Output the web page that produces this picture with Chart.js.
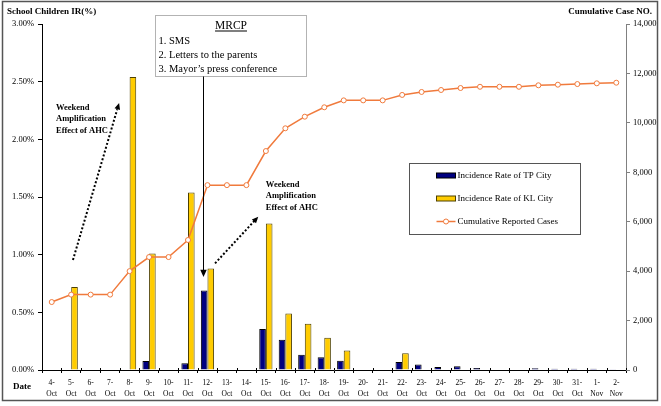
<!DOCTYPE html>
<html>
<head>
<meta charset="utf-8">
<script src="https://cdn.jsdelivr.net/npm/chart.js@4.4.1/dist/chart.umd.min.js"></script>
<style>
  html, body { margin: 0; padding: 0; background: #fff; }
  #wrap { width: 661px; height: 406px; position: relative; }
</style>
</head>
<body>
<div id="wrap"><canvas id="chart" width="661" height="406"></canvas></div>
<script>
// --- data ---
const dates = ['4-Oct', '5-Oct', '6-Oct', '7-Oct', '8-Oct', '9-Oct', '10-Oct', '11-Oct', '12-Oct', '13-Oct',
    '14-Oct', '15-Oct', '16-Oct', '17-Oct', '18-Oct', '19-Oct', '20-Oct', '21-Oct', '22-Oct', '23-Oct',
    '24-Oct', '25-Oct', '26-Oct', '27-Oct', '28-Oct', '29-Oct', '30-Oct', '31-Oct', '1-Nov', '2-Nov']

// incidence rate of school children, in %
const tpRate = [null, 0.005, null, null, null, 0.078, null, 0.058, 0.69, null,
    null, 0.355, 0.263, 0.133, 0.11, 0.08, null, null, 0.069, 0.047,
    0.025, 0.032, 0.018, null, null, 0.016, 0.011, 0.011, 0.011, 0.007]
const klRate = [null, 0.72, null, null, 2.54, 1.01, null, 1.54, 0.88, null,
    null, 1.27, 0.49, 0.40, 0.28, 0.17, null, null, 0.145, null,
    null, null, null, null, null, null, null, null, null, null]

// cumulative reported cases (right axis)
const cumCases = [2750, 3050, 3050, 3050, 4000, 4570, 4570, 5260, 7480, 7480,
    7480, 8860, 9780, 10250, 10630, 10910, 10910, 10910, 11130, 11250,
    11330, 11410, 11460, 11460, 11460, 11520, 11545, 11570, 11600, 11625]

const irMax = 3, irStep = 0.5
const caseMax = 14000, caseStep = 2000

const seriesNames = ['Incidence Rate of TP City', 'Incidence Rate of KL City', 'Cumulative Reported Cases']
const mrcpTitle = 'MRCP'
const mrcpItems = ['1. SMS', '2. Letters to the parents', "3. Mayor\u2019s press conference"]
const weekendText = ['Weekend', 'Amplification', 'Effect of AHC']

// --- styles ---
const SERIF = "'Liberation Serif', 'Times New Roman', serif"
const NAVY = '#000080'
const YELLOW = '#FFCC00'
const ORANGE = '#F07A3C'

// annotation anchors, in (category index, % on left axis)
const notes = {
    box: { x0: 5.3, x1: 13.06, yTop: 3.078, yBot: 2.546 },
    mrcpArrow: { x: 7.79, yTip: 0.806 },
    weekend: [
        { tx: 0.22, ty: 2.274, from: [1.09, 0.954], to: [3.46, 2.315] },
        { tx: 11.0, ty: 1.607, from: [8.39, 0.925], to: [10.61, 1.329] }
    ],
    legend: { x0: 18.35, x1: 27.14, yTop: 1.795, yBot: 1.179 }
}

function arrowHead( ctx, x0, y0, x1, y1, size ) {
    const a = Math.atan2( y1 - y0, x1 - x0 )
    ctx.beginPath()
    ctx.moveTo( x1, y1 )
    ctx.lineTo( x1 - size * Math.cos( a - 0.42 ), y1 - size * Math.sin( a - 0.42 ) )
    ctx.lineTo( x1 - size * Math.cos( a + 0.42 ), y1 - size * Math.sin( a + 0.42 ) )
    ctx.closePath()
    ctx.fill()
}

const decor = {
    id: 'decor',
    afterDraw( chart ) {
        const ctx = chart.ctx
        const xs = chart.scales.x, ys = chart.scales.y
        const px = i => xs.getPixelForValue( i )
        const py = v => ys.getPixelForValue( v )
        const area = chart.chartArea
        ctx.save()

        // outer frame
        ctx.strokeStyle = '#555'
        ctx.lineWidth = 1.5
        ctx.strokeRect( 2.5, 1.5, 655, 399 )

        // x tick marks crossing the axis
        ctx.strokeStyle = '#000'
        ctx.lineWidth = 1
        ctx.beginPath()
        for ( let i = 0; i <= dates.length; i++ ) {
            const x = Math.round( px( i - 0.5 ) ) + 0.5
            ctx.moveTo( x, area.bottom - 2 )
            ctx.lineTo( x, area.bottom )
        }
        ctx.stroke()

        // axis titles
        ctx.fillStyle = '#000'
        ctx.font = 'bold 9px ' + SERIF
        ctx.textBaseline = 'middle'
        ctx.textAlign = 'left'
        ctx.fillText( 'School Children IR(%)', 7, 12 )
        ctx.fillText( 'Date', 13, 387 )
        ctx.textAlign = 'right'
        ctx.fillText( 'Cumulative Case NO.', 652, 12 )

        // MRCP box
        const b = notes.box
        const bx0 = Math.round( px( b.x0 ) ) + 0.5, bx1 = Math.round( px( b.x1 ) ) + 0.5
        const by0 = Math.round( py( b.yTop ) ) + 0.5, by1 = Math.round( py( b.yBot ) ) + 0.5
        ctx.fillStyle = '#fff'
        ctx.fillRect( bx0, by0, bx1 - bx0, by1 - by0 )
        ctx.setLineDash( [ 1, 1 ] )
        ctx.strokeStyle = '#666'
        ctx.strokeRect( bx0, by0, bx1 - bx0, by1 - by0 )
        ctx.setLineDash( [] )
        ctx.fillStyle = '#000'
        ctx.font = '11.5px ' + SERIF
        ctx.textAlign = 'center'
        const cx = ( bx0 + bx1 ) / 2
        ctx.fillText( mrcpTitle, cx, by0 + 10 )
        const tw = ctx.measureText( mrcpTitle ).width
        ctx.fillRect( cx - tw / 2, by0 + 15, tw, 1 )
        ctx.font = '10.5px ' + SERIF
        ctx.textAlign = 'left'
        mrcpItems.forEach( ( t, k ) => ctx.fillText( t, bx0 + 3, by0 + 26 + k * 14 ) )

        // MRCP arrow down to TP City bar
        const ax = Math.round( px( notes.mrcpArrow.x ) ) + 0.5
        const ay = py( notes.mrcpArrow.yTip )
        ctx.strokeStyle = '#000'
        ctx.lineWidth = 1
        ctx.beginPath()
        ctx.moveTo( ax, by1 )
        ctx.lineTo( ax, ay - 6 )
        ctx.stroke()
        arrowHead( ctx, ax, by1, ax, ay, 8 )

        // weekend amplification notes
        notes.weekend.forEach( w => {
            const x0 = px( w.from[ 0 ] ), y0 = py( w.from[ 1 ] )
            const x1 = px( w.to[ 0 ] ), y1 = py( w.to[ 1 ] )
            ctx.setLineDash( [ 2, 2 ] )
            ctx.lineWidth = 2
            ctx.beginPath()
            ctx.moveTo( x0, y0 )
            ctx.lineTo( x1 - ( x1 - x0 ) * 0.04, y1 - ( y1 - y0 ) * 0.04 )
            ctx.stroke()
            ctx.setLineDash( [] )
            arrowHead( ctx, x0, y0, x1, y1, 7 )
            ctx.font = 'bold 8.5px ' + SERIF
            ctx.textAlign = 'left'
            weekendText.forEach( ( t, k ) => ctx.fillText( t, px( w.tx ), py( w.ty ) + k * 11.5 ) )
        } )

        // legend box
        const l = notes.legend
        const lx0 = Math.round( px( l.x0 ) ) + 0.5, lx1 = Math.round( px( l.x1 ) ) + 0.5
        const ly0 = Math.round( py( l.yTop ) ) + 0.5, ly1 = Math.round( py( l.yBot ) ) + 0.5
        ctx.fillStyle = '#fff'
        ctx.fillRect( lx0, ly0, lx1 - lx0, ly1 - ly0 )
        ctx.strokeStyle = '#555'
        ctx.lineWidth = 1
        ctx.strokeRect( lx0, ly0, lx1 - lx0, ly1 - ly0 )
        const rows = [ ly0 + 12, ly0 + 35, ly0 + 58 ]
        const sx = lx0 + 27, sw = 19
        // TP swatch
        ctx.fillStyle = NAVY
        ctx.fillRect( sx, rows[ 0 ] - 2.5, sw, 5 )
        ctx.strokeStyle = '#000'
        ctx.strokeRect( sx, rows[ 0 ] - 2.5, sw, 5 )
        // KL swatch
        ctx.fillStyle = YELLOW
        ctx.fillRect( sx, rows[ 1 ] - 2.5, sw, 5 )
        ctx.strokeStyle = '#4d4000'
        ctx.strokeRect( sx, rows[ 1 ] - 2.5, sw, 5 )
        // line swatch
        ctx.strokeStyle = ORANGE
        ctx.lineWidth = 1.5
        ctx.beginPath()
        ctx.moveTo( sx, rows[ 2 ] )
        ctx.lineTo( sx + sw, rows[ 2 ] )
        ctx.stroke()
        ctx.fillStyle = '#fff'
        ctx.lineWidth = 1
        ctx.beginPath()
        ctx.arc( sx + sw / 2, rows[ 2 ], 2.5, 0, Math.PI * 2 )
        ctx.fill()
        ctx.stroke()
        ctx.fillStyle = '#000'
        ctx.font = '9px ' + SERIF
        ctx.textAlign = 'left'
        seriesNames.forEach( ( t, k ) => ctx.fillText( t, sx + sw + 2, rows[ k ] ) )

        ctx.restore()
    }
}

new Chart( document.getElementById( 'chart' ), {
    type: 'bar',
    data: {
        labels: dates,
        datasets: [
            {
                type: 'line', label: seriesNames[ 2 ], data: cumCases, yAxisID: 'y1', order: 0,
                borderColor: ORANGE, borderWidth: 1.5, backgroundColor: '#fff',
                pointRadius: 2.5, pointBorderWidth: 1, pointBorderColor: ORANGE, pointBackgroundColor: '#fff',
                tension: 0
            },
            {
                label: seriesNames[ 0 ], data: tpRate, yAxisID: 'y', order: 1,
                backgroundColor: NAVY, borderColor: '#000', borderWidth: 1,
                categoryPercentage: 0.68, barPercentage: 1.0
            },
            {
                label: seriesNames[ 1 ], data: klRate, yAxisID: 'y', order: 1,
                backgroundColor: YELLOW, borderColor: '#4d4000', borderWidth: 1,
                categoryPercentage: 0.68, barPercentage: 1.0
            }
        ]
    },
    options: {
        responsive: false,
        animation: false,
        devicePixelRatio: 1,
        layout: { padding: { top: 24, left: 0, right: 0, bottom: 0 } },
        plugins: { legend: { display: false }, tooltip: { enabled: false } },
        scales: {
            x: {
                grid: { display: true, drawOnChartArea: false, color: '#000', tickLength: 3 },
                border: { color: '#000', width: 1 },
                ticks: {
                    autoSkip: false, maxRotation: 0, minRotation: 0, padding: 5, color: '#000',
                    font: { family: SERIF, size: 7.5, lineHeight: 1.4 },
                    callback: function( v ) {
                        const s = this.getLabelForValue( v )
                        const k = s.indexOf( '-' )
                        return [ s.slice( 0, k + 1 ), s.slice( k + 1 ) ]
                    }
                },
                afterFit: s => { s.height = 36 }
            },
            y: {
                position: 'left', min: 0, max: irMax,
                grid: { display: true, drawOnChartArea: false, color: '#000', tickLength: 4 },
                border: { color: '#000', width: 1 },
                ticks: {
                    stepSize: irStep, padding: 4, color: '#000',
                    font: { family: SERIF, size: 8.5 },
                    callback: v => v.toFixed( 2 ) + '%'
                },
                afterFit: s => { s.width = 42 }
            },
            y1: {
                position: 'right', min: 0, max: caseMax,
                grid: { display: true, drawOnChartArea: false, color: '#808080', tickLength: 4 },
                border: { color: '#808080', width: 1 },
                ticks: {
                    stepSize: caseStep, padding: 3, color: '#000',
                    font: { family: SERIF, size: 8.5 },
                    callback: v => v.toLocaleString( 'en-US' )
                },
                afterFit: s => { s.width = 35 }
            }
        }
    },
    plugins: [ decor ]
} )
</script>
</body>
</html>
